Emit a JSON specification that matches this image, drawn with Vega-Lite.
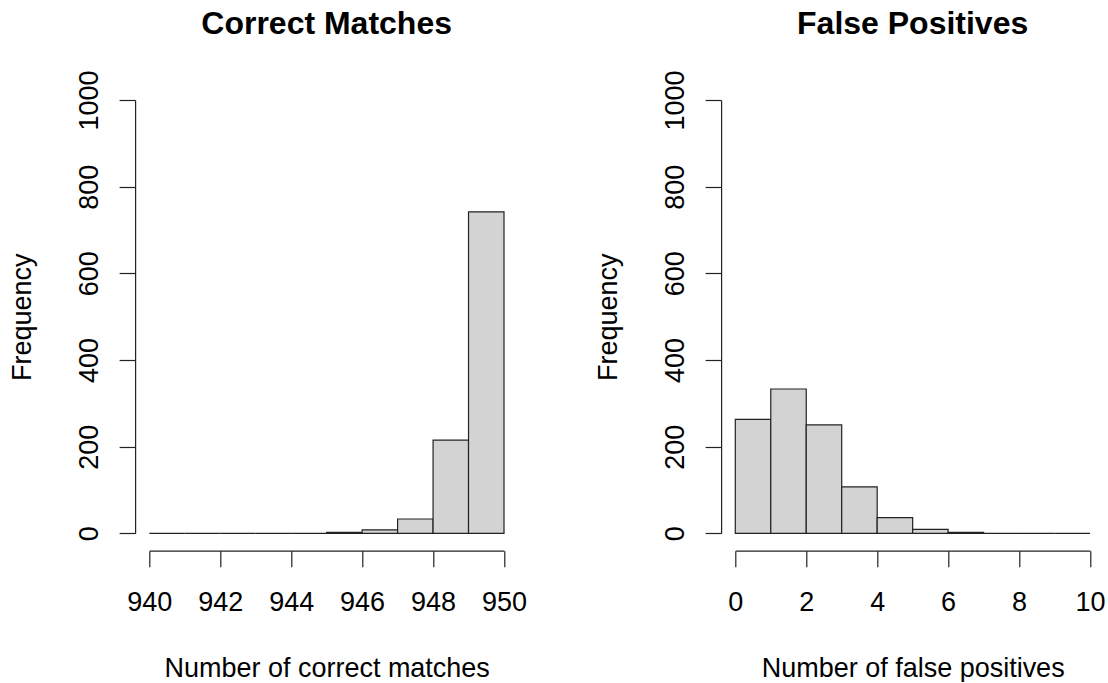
{
  "$schema": "https://vega.github.io/schema/vega-lite/v6.json",
  "background": "white",
  "padding": {"left": 7.3, "top": 7, "right": 0, "bottom": 0},
  "bounds": "flush",
  "spacing": 231,
  "config": {
    "view": {"stroke": null},
    "font": "Liberation Sans",
    "axis": {
      "grid": false,
      "domainColor": "#222",
      "domainWidth": 1.2,
      "tickColor": "#222",
      "tickWidth": 1.2,
      "tickSize": 16,
      "labelFont": "Liberation Sans",
      "labelFontSize": 27,
      "labelColor": "black",
      "labelFlush": false,
      "labelOverlap": false,
      "titleFont": "Liberation Sans",
      "titleFontSize": 27,
      "titleFontWeight": "normal",
      "titleColor": "black"
    },
    "title": {
      "font": "Liberation Sans",
      "fontSize": 32,
      "fontWeight": "bold",
      "color": "black",
      "anchor": "middle",
      "frame": "group",
      "baseline": "alphabetic",
      "offset": 29
    }
  },
  "datasets": {
    "correct": [
      {"lo": 940, "hi": 941, "count": 0},
      {"lo": 941, "hi": 942, "count": 0},
      {"lo": 942, "hi": 943, "count": 0},
      {"lo": 943, "hi": 944, "count": 0},
      {"lo": 944, "hi": 945, "count": 0},
      {"lo": 945, "hi": 946, "count": 2},
      {"lo": 946, "hi": 947, "count": 8},
      {"lo": 947, "hi": 948, "count": 33},
      {"lo": 948, "hi": 949, "count": 215},
      {"lo": 949, "hi": 950, "count": 742}
    ],
    "falsepos": [
      {"lo": 0, "hi": 1, "count": 263},
      {"lo": 1, "hi": 2, "count": 333},
      {"lo": 2, "hi": 3, "count": 250},
      {"lo": 3, "hi": 4, "count": 107},
      {"lo": 4, "hi": 5, "count": 36},
      {"lo": 5, "hi": 6, "count": 9},
      {"lo": 6, "hi": 7, "count": 2},
      {"lo": 7, "hi": 8, "count": 0},
      {"lo": 8, "hi": 9, "count": 0},
      {"lo": 9, "hi": 10, "count": 0}
    ]
  },
  "hconcat": [
    {
      "width": 354.7,
      "height": 433.3,
      "title": "Correct Matches",
      "data": {"name": "correct"},
      "mark": {"type": "rect", "fill": "#d3d3d3", "stroke": "#222", "strokeWidth": 1.2},
      "encoding": {
        "x": {
          "field": "lo",
          "type": "quantitative",
          "scale": {"domain": [940, 950], "nice": false, "zero": false},
          "axis": {
            "title": "Number of correct matches",
            "values": [940, 942, 944, 946, 948, 950],
            "format": "d",
            "offset": 17.4,
            "labelBaseline": "alphabetic",
            "labelPadding": 44,
            "titleBaseline": "alphabetic",
            "titleY": 126
          }
        },
        "x2": {"field": "hi"},
        "y": {
          "field": "count",
          "type": "quantitative",
          "scale": {"domain": [0, 1000], "nice": false},
          "axis": {
            "title": "Frequency",
            "values": [0, 200, 400, 600, 800, 1000],
            "format": "d",
            "offset": 14.2,
            "labelAngle": 270,
            "labelAlign": "center",
            "labelBaseline": "alphabetic",
            "labelPadding": 22,
            "titleAngle": 270,
            "titleBaseline": "alphabetic",
            "titleX": -105
          }
        },
        "y2": {"datum": 0}
      }
    },
    {
      "width": 354.7,
      "height": 433.3,
      "title": "False Positives",
      "data": {"name": "falsepos"},
      "mark": {"type": "rect", "fill": "#d3d3d3", "stroke": "#222", "strokeWidth": 1.2},
      "encoding": {
        "x": {
          "field": "lo",
          "type": "quantitative",
          "scale": {"domain": [0, 10], "nice": false, "zero": false},
          "axis": {
            "title": "Number of false positives",
            "values": [0, 2, 4, 6, 8, 10],
            "format": "d",
            "offset": 17.4,
            "labelBaseline": "alphabetic",
            "labelPadding": 44,
            "titleBaseline": "alphabetic",
            "titleY": 126
          }
        },
        "x2": {"field": "hi"},
        "y": {
          "field": "count",
          "type": "quantitative",
          "scale": {"domain": [0, 1000], "nice": false},
          "axis": {
            "title": "Frequency",
            "values": [0, 200, 400, 600, 800, 1000],
            "format": "d",
            "offset": 14.2,
            "labelAngle": 270,
            "labelAlign": "center",
            "labelBaseline": "alphabetic",
            "labelPadding": 22,
            "titleAngle": 270,
            "titleBaseline": "alphabetic",
            "titleX": -105
          }
        },
        "y2": {"datum": 0}
      }
    }
  ]
}
